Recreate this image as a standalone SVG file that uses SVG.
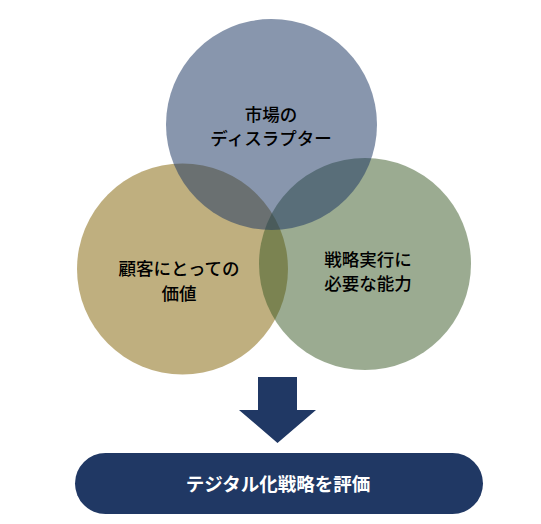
<svg xmlns="http://www.w3.org/2000/svg" width="541" height="524" viewBox="0 0 541 524">
<style>
.lbl{font-family:"Noto Sans CJK JP","Noto Sans CJK SC",sans-serif;font-size:17.5px;font-weight:500;fill:#000;text-anchor:middle;dominant-baseline:central}
.res{font-family:"Noto Sans CJK JP","Noto Sans CJK SC",sans-serif;font-size:18.5px;font-weight:bold;fill:#fff;text-anchor:middle;dominant-baseline:central}
</style>
<rect width="541" height="524" fill="#fff"/>
<g id="value">
<circle cx="182.5" cy="269" r="105.5" fill="#7f6000" fill-opacity="0.5"/>
</g>
<g id="capability">
<circle cx="365" cy="264" r="106" fill="#385723" fill-opacity="0.5"/>
</g>
<g id="disruption">
<circle cx="271.5" cy="124.5" r="105.5" fill="#1f3864" fill-opacity="0.53"/>
</g>
<g id="labels">
<text class="lbl" x="271" y="113">市場の</text>
<text class="lbl" x="271" y="137">ディスラプター</text>
<text class="lbl" x="179" y="267">顧客にとっての</text>
<text class="lbl" x="179" y="292">価値</text>
<text class="lbl" x="368" y="258">戦略実行に</text>
<text class="lbl" x="368" y="282">必要な能力</text>
</g>
<g id="connectors">
<polygon points="258,377 297,377 297,410 316,410 277.5,443 239,410 258,410" fill="#203864"/>
</g>
<g id="result">
<rect x="75" y="453" width="408" height="61" rx="30.5" fill="#203864"/>
<text class="res" x="278" y="483">テジタル化戦略を評価</text>
</g>
</svg>
